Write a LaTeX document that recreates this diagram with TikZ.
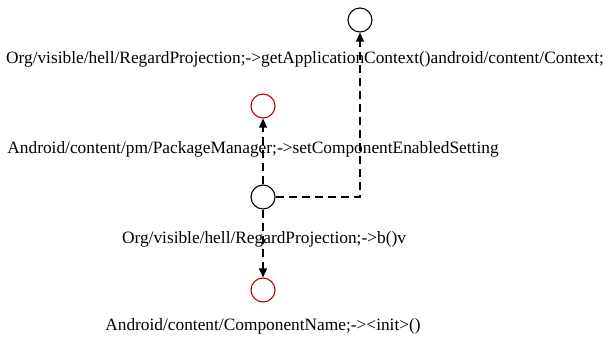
\documentclass[tikz,border=0pt]{standalone}
\usepackage{fontspec}
\setmainfont{Liberation Serif}
\usetikzlibrary{arrows.meta}
\begin{document}
\begin{tikzpicture}[x=1bp,y=1bp,
  vertex/.style={circle,draw=black,line width=1.1bp,minimum size=24bp,inner sep=0pt},
  hot/.style={vertex,draw=red!75!black},
  lbl/.style={font=\fontsize{17.4}{20}\selectfont,inner sep=0pt,anchor=base},
  call/.style={draw=black,line width=1.2bp,dash pattern=on 8bp off 5bp,-{Triangle[length=9bp,width=8bp]}}]
  \useasboundingbox (0,0) rectangle (608,336);
  % vertices
  \node[vertex] (ctx) at (360,316) {};
  \node[hot]    (pm)  at (263,230) {};
  \node[vertex] (b)   at (263,139) {};
  \node[hot]    (cn)  at (263,46)  {};
  % labels
  \node[lbl] (lctx) at (305,273) {Org/visible/hell/RegardProjection;->getApplicationContext()android/content/Context;};
  \node[lbl] (lpm)  at (253,183) {Android/content/pm/PackageManager;->setComponentEnabledSetting};
  \node[lbl] (lb)   at (264,93)  {Org/visible/hell/RegardProjection;->b()v};
  \node[lbl] (lcn)  at (263,6)   {Android/content/ComponentName;-><init>()};
  % calls
  \draw[call] (b) -- (pm);
  \draw[call] (b) -- (cn);
  \draw[call] (b.east) -| (ctx);
\end{tikzpicture}
\end{document}
